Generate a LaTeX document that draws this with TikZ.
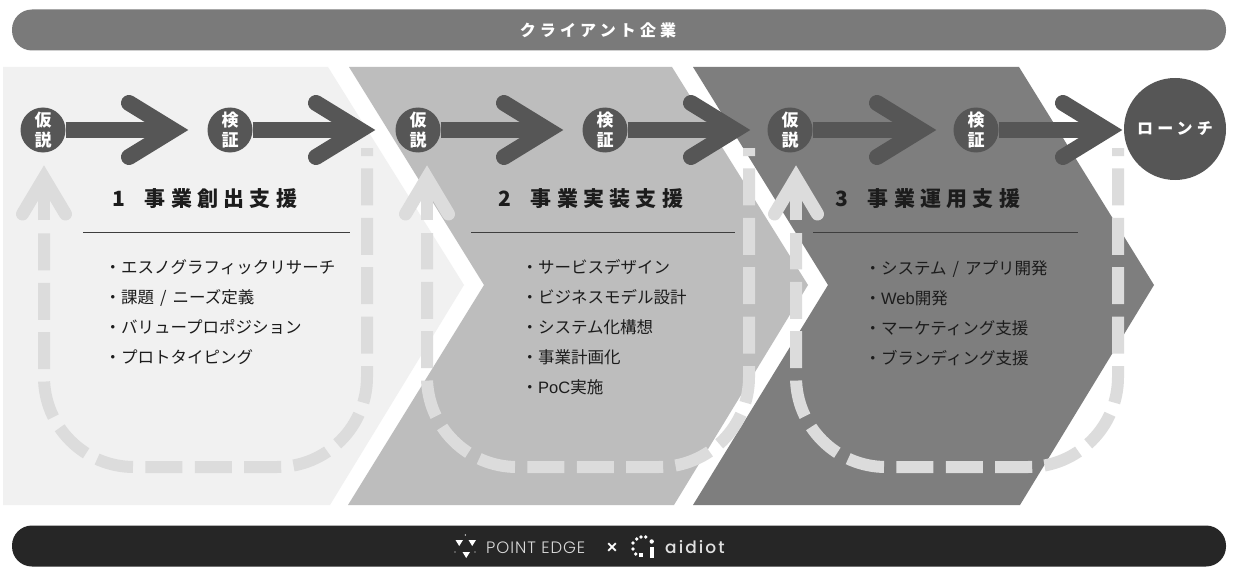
\documentclass[tikz,border=0pt]{standalone}
\usepackage{fontspec}
\usetikzlibrary{calc}
\setmainfont{Noto Sans CJK JP}
\newfontfamily\jp{Noto Sans CJK JP}
\newfontfamily\jpspaced[LetterSpace=26]{Noto Sans CJK JP}
\newfontfamily\jptitle[LetterSpace=25]{Noto Sans CJK JP}
\newfontfamily\lat{Liberation Sans}
\newfontfamily\logospaced[LetterSpace=12]{Poppins Medium}
\newfontfamily\poplight[LetterSpace=5.6]{Poppins Light}
\definecolor{panelA}{HTML}{F1F1F1}
\definecolor{panelB}{HTML}{BDBDBD}
\definecolor{panelC}{HTML}{7E7E7E}
\definecolor{flowdark}{HTML}{565656}
\definecolor{loopgrey}{HTML}{DCDCDC}
\definecolor{inkdark}{HTML}{1C1C1C}
\tikzset{
  x=1pt,y=-1pt,
  widebar/.style={rounded corners=20pt,minimum width=1214pt,minimum height=41pt,inner sep=0pt,text=white},
  stage/.style={circle,fill=flowdark,minimum size=45pt,inner sep=0pt,text=white,align=center,
     font=\jp\bfseries\fontsize{17}{20}\selectfont},
  flowline/.style={draw=flowdark,line width=15pt},
  flowhead/.style={draw=flowdark,line width=16pt,line cap=round,miter limit=20},
  loopline/.style={draw=loopgrey,line width=12pt,dash pattern=on 37pt off 12.4pt,dash phase=29pt,rounded corners=90pt},
  loopshaft/.style={draw=loopgrey,line width=12pt},
  loophead/.style={draw=loopgrey,line width=13pt,line cap=round,miter limit=20},
  heading/.style={anchor=west,inner sep=0pt,text=inkdark,font=\jptitle\bfseries\fontsize{21}{24}\selectfont},
  item/.style={anchor=base west,yshift=-6.6pt,inner sep=0pt,text=inkdark,font=\jp\fontsize{16.5}{20}\selectfont},
  rule/.style={draw=inkdark!85!white,line width=0.9pt},
}
\newcommand{\flowarrow}[2]{%
  \draw[flowline] (#1.east) -- ([xshift=-22pt]#2);
  \draw[flowhead] ([shift={(-59pt,-27pt)}]#2) -- ([xshift=-15pt]#2) -- ([shift={(-59pt,27pt)}]#2);
}
\newcommand{\loopU}[3]{% left x, right x, name
  \coordinate (#3s) at (#2,148);
  \coordinate (#3e) at (#1,233);
  \coordinate (#3t) at (#1,165);
  \draw[loopline] (#3s) -- (#2,467) -- (#1,467) -- (#3e);
  \draw[loopshaft] (#1,220) -- ([yshift=-24pt]#3t);
  \draw[loophead] ([shift={(-21.5pt,-49pt)}]#3t) -- ([yshift=-13pt]#3t) -- ([shift={(21.5pt,-49pt)}]#3t);
}
\begin{document}
\begin{tikzpicture}
\useasboundingbox[fill=white] (0,0) rectangle (1233,575);
% panels
\fill[panelA] (3,67) -- (328,67) -- (464,285) -- (330,505) -- (3,505) -- cycle;
\fill[panelB] (349,67) -- (672,67) -- (808,285) -- (674,505) -- (348,505) -- (484,285) -- cycle;
\fill[panelC] (693,67) -- (1019,67) -- (1154,285) -- (1020,505) -- (693,505) -- (828,285) -- cycle;
% bars
\node[widebar,fill=black!52] (client) at (619,30) {};
\node[inner sep=0pt,text=white,font=\jpspaced\bfseries\fontsize{16}{20}\selectfont] (clientlabel) at (598,30) {クライアント企業};
\node[widebar,fill=black!85] (partners) at (619,546) {};
% loops
\loopU{44}{367}{la}
\loopU{427}{749}{lb}
\loopU{796}{1118}{lc}
% stage nodes
\node[stage] (h1) at (43,130) {仮\\説};
\node[stage] (v1) at (230,130) {検\\証};
\node[stage] (h2) at (418,130) {仮\\説};
\node[stage] (v2) at (605,130) {検\\証};
\node[stage] (h3) at (790,130) {仮\\説};
\node[stage] (v3) at (976,130) {検\\証};
\node[circle,fill=flowdark,minimum size=102pt,inner sep=0pt,text=white,
      font=\jpspaced\bfseries\fontsize{16}{20}\selectfont] (launch) at (1175,129) {ローンチ};
\coordinate (t1) at (188,130);
\coordinate (t2) at (375,130);
\coordinate (t3) at (563,130);
\coordinate (t4) at (750,130);
\coordinate (t5) at (936,130);
\coordinate (t6) at (1122,130);
\flowarrow{h1}{t1}
\flowarrow{v1}{t2}
\flowarrow{h2}{t3}
\flowarrow{v2}{t4}
\flowarrow{h3}{t5}
\flowarrow{v3}{t6}
% headings
\node[heading] (ti1) at (112,199) {1\hspace{20pt}事業創出支援};
\node[heading] (ti2) at (498,199) {2\hspace{20pt}事業実装支援};
\node[heading] (ti3) at (835,199) {3\hspace{20pt}事業運用支援};
\draw[rule] (83,232) -- (350,232);
\draw[rule] (471,232) -- (735,232);
\draw[rule] (813,232) -- (1078,232);
% lists
\node[item] (a1) at (104.5,267) {・エスノグラフィックリサーチ};
\node[item] (a2) at (104.5,297) {・課題\hspace{6pt}/\hspace{6pt}ニーズ定義};
\node[item] (a3) at (104.5,327) {・バリュープロポジション};
\node[item] (a4) at (104.5,357) {・プロトタイピング};
\node[item] (b1) at (521.5,267) {・サービスデザイン};
\node[item] (b2) at (521.5,297) {・ビジネスモデル設計};
\node[item] (b3) at (521.5,327) {・システム化構想};
\node[item] (b4) at (521.5,357) {・事業計画化};
\node[item] (b5) at (521.5,387) {・{\lat PoC}実施};
\node[item] (c1) at (864.5,268) {・システム\hspace{6pt}/\hspace{6pt}アプリ開発};
\node[item] (c2) at (864.5,298) {・{\lat Web}開発};
\node[item] (c3) at (864.5,328) {・マーケティング支援};
\node[item] (c4) at (864.5,358) {・ブランディング支援};
% footer logos
\fill[white] (455.5,540) -- (463,540) -- (459.2,546) -- cycle;
\fill[white] (468.5,540) -- (476,540) -- (472.2,546) -- cycle;
\fill[white] (462.5,552) -- (470,552) -- (466.2,558) -- cycle;
\fill[white] (465.3,535) circle (0.7);
\fill[white] (455,552) circle (0.7);
\fill[white] (475,552) circle (0.7);
\node[anchor=west,inner sep=0pt,text=black!15,font=\poplight\fontsize{16.5}{18}\selectfont] (pe) at (486,548) {POINT EDGE};
\node[inner sep=0pt,text=white,font=\lat\bfseries\fontsize{18}{18}\selectfont] (times) at (612,548) {×};
\foreach \px/\py in {645.7/537,641/537,636.7/539,633/543,633/549,635.7/554}
  \fill[white] (\px,\py) circle (1.8);
\fill[white] (639,553) rectangle (643,557);
\fill[white] (649.5,547) rectangle (654,557.5);
\fill[white] (651.7,541.5) circle (2.2);
\node[anchor=west,inner sep=0pt,text=black!12,font=\logospaced\fontsize{17}{20}\selectfont] (aid) at (665,547.5) {aidiot};
\end{tikzpicture}
\end{document}
